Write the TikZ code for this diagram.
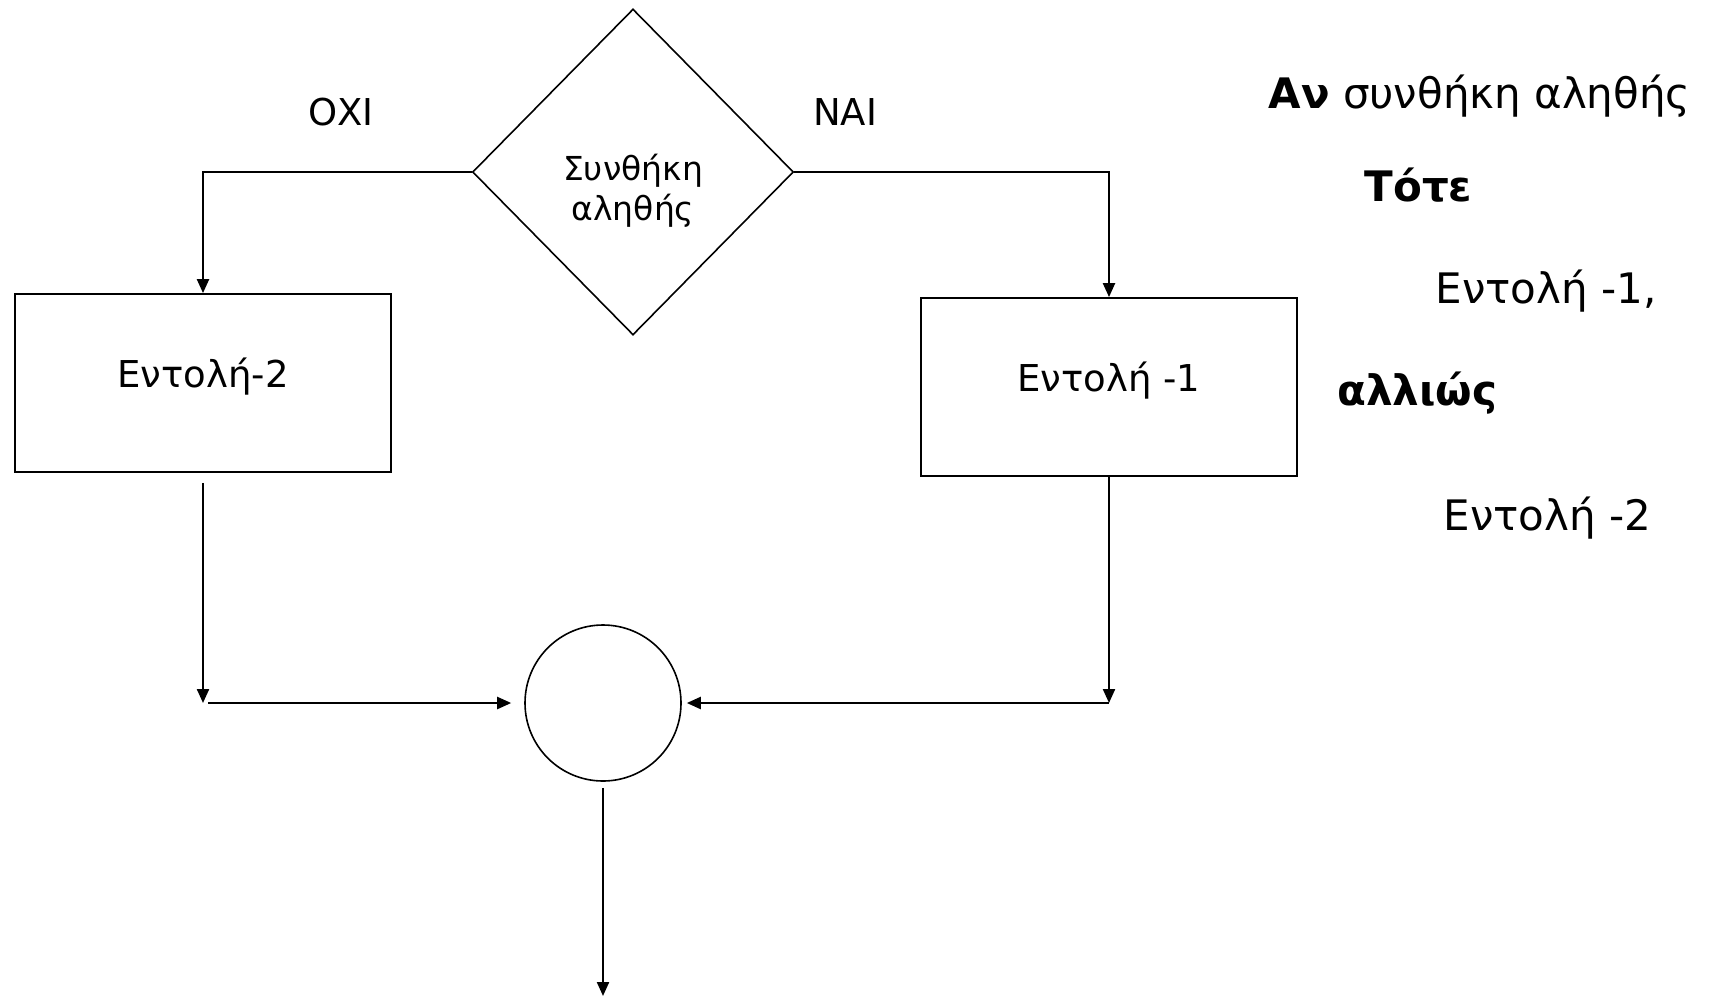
\documentclass[tikz,border=0pt]{standalone}
\usepackage{fontspec}
\setmainfont{DejaVu Sans}
\usetikzlibrary{arrows.meta,shapes.geometric,positioning}

\begin{document}
\begin{tikzpicture}[
  x=1pt,y=-1pt,
  >={Triangle[length=14pt,width=12pt]},
  stmt/.style={draw,line width=1.8pt,minimum width=376pt,minimum height=178pt,
               inner sep=0pt,text depth=20pt,font=\fontsize{37}{44}\selectfont},
  cond/.style={draw,diamond,line width=1.6pt,minimum width=321pt,
               minimum height=326pt,inner sep=0pt},
  mergept/.style={draw,circle,line width=1.6pt,minimum size=156pt,inner sep=0pt},
  arr/.style={->,line width=2.2pt},
  lbl/.style={font=\fontsize{37}{44}\selectfont},
  txt/.style={anchor=west,font=\fontsize{42}{50}\selectfont}
]
\useasboundingbox (0,0) rectangle (1710,999);
\node[cond] (cond) at (633,172) {};
\node[font=\fontsize{33}{40}\selectfont,align=center] (condtxt) at (633,191) {Συνθήκη\\αληθής};
\node[stmt] (e2) at (203,383) {Εντολή-2};
\node[stmt] (e1) at (1109,387) {Εντολή -1};
\node[mergept] (merge) at (603,703) {};
\node[lbl] (no) at (341,112) {ΟΧΙ};
\node[lbl] (yes) at (845,112) {ΝΑΙ};
% pseudocode on the right
\node[txt] (t1) at (1265,96) {\textbf{Αν} συνθήκη αληθής};
\node[txt] (t2) at (1361,185) {\textbf{Τότε}};
\node[txt] (t3) at (1432,291) {Εντολή -1,};
\node[txt] (t4) at (1334,393) {\textbf{αλλιώς}};
\node[txt] (t5) at (1440,518) {Εντολή -2};
\coordinate (jl) at (e2.south |- merge.west);
\coordinate (jr) at (e1.south |- merge.east);
\coordinate (out) at (603,996);
\draw[arr] (cond.west) -| (e2.north);
\draw[arr] (cond.east) -| (e1.north);
\draw[arr,shorten <=10pt] (e2.south) -- (jl);
\draw[arr,shorten <=5pt,shorten >=13pt] (jl) -- (merge.west);
\draw[arr] (e1.south) -- (jr);
\draw[arr,shorten >=5pt] (jr) -- (merge.east);
\draw[arr,shorten <=6pt] (merge.south) -- (out);
\end{tikzpicture}
\end{document}
